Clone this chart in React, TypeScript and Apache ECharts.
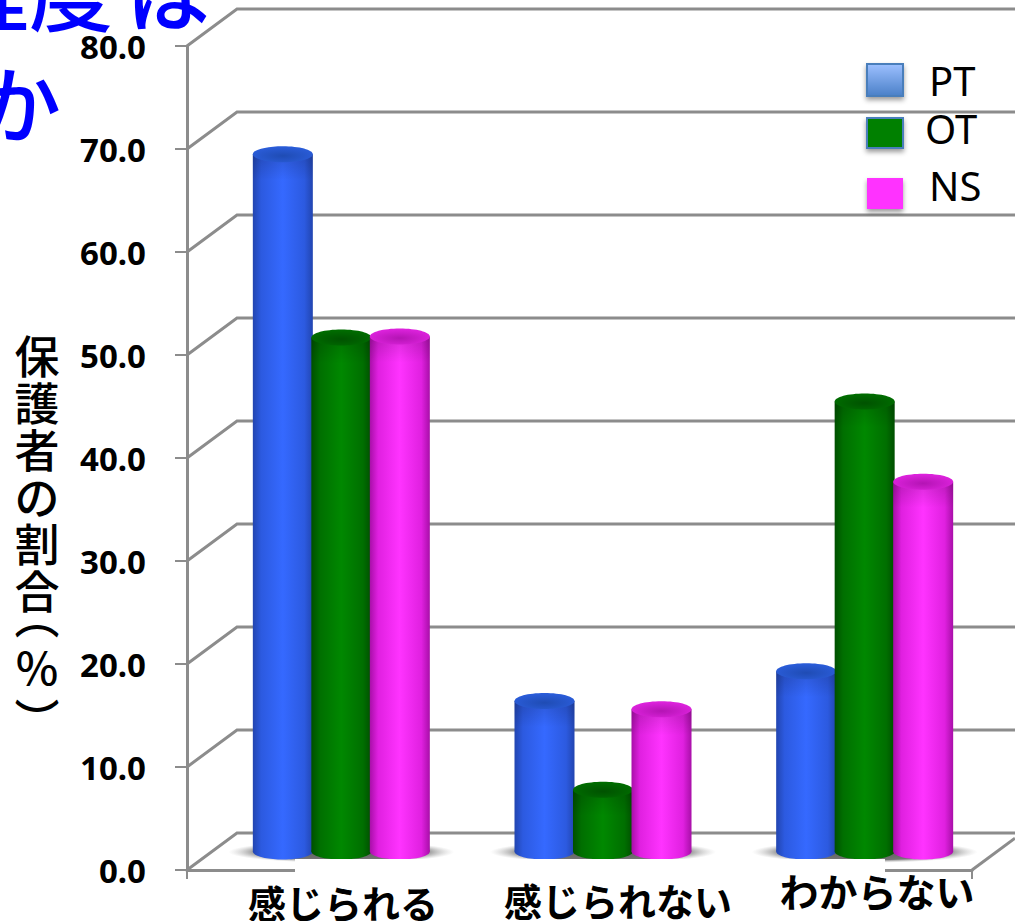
import React, { useEffect, useRef } from "react";
import * as echarts from "echarts";

const categories = ["感じられる", "感じられない", "わからない"];
const ptValues = [67.7, 14.6, 17.5];
const otValues = [49.9, 6.0, 43.7];
const nsValues = [50.0, 13.8, 35.9];
const tickValues = [0, 10, 20, 30, 40, 50, 60, 70, 80];
const legendNames = ["PT", "OT", "NS"];

const GRID_LEFT = 187;
const GRID_TOP = 46;
const GRID_WIDTH = 785;
const GRID_HEIGHT = 824;
const DEPTH_X = 50;
const DEPTH_Y = 37;
const BAR_SHIFT = 23.5;
const BAR_STEP = 58.5;
const BAR_RX = 30;
const BAR_RY = 8;
const LINE_COLOR = "#8c8c8c";
const FONT = '"Noto Sans CJK JP", "Noto Sans", sans-serif';

function sideGradient(edge: string, mid: string, centre: string) {
  return new echarts.graphic.LinearGradient(0, 0, 1, 0, [
    { offset: 0, color: edge },
    { offset: 0.14, color: mid },
    { offset: 0.5, color: centre },
    { offset: 0.86, color: mid },
    { offset: 1, color: edge },
  ]);
}

function capGradient(inner: string, outer: string) {
  return new echarts.graphic.RadialGradient(0.5, 0.6, 0.55, [
    { offset: 0, color: inner },
    { offset: 1, color: outer },
  ]);
}

function cylinderSeries(
  name: string,
  values: number[],
  slot: number,
  edge: string,
  mid: string,
  centre: string,
  capInner: string,
  capOuter: string,
) {
  const body = sideGradient(edge, mid, centre);
  const cap = capGradient(capInner, capOuter);
  return {
    type: "custom",
    name,
    z: 3,
    data: values.map((v, i) => [i, v]),
    renderItem: (_params: any, api: any) => {
      const top = api.coord([api.value(0), api.value(1)]);
      const base = api.coord([api.value(0), 0]);
      const cx = top[0] + BAR_SHIFT + slot * BAR_STEP;
      const topY = top[1] - DEPTH_Y / 2;
      const baseY = base[1] - DEPTH_Y / 2;
      return {
        type: "group",
        children: [
          {
            type: "ellipse",
            shape: { cx, cy: baseY, rx: BAR_RX, ry: BAR_RY },
            style: { fill: body },
          },
          {
            type: "rect",
            shape: { x: cx - BAR_RX, y: topY, width: BAR_RX * 2, height: baseY - topY },
            style: { fill: body },
          },
          {
            type: "rect",
            shape: { x: cx - BAR_RX, y: topY, width: BAR_RX * 2, height: Math.min(26, baseY - topY) },
            style: {
              fill: new echarts.graphic.LinearGradient(0, 0, 0, 1, [
                { offset: 0, color: "rgba(0,0,0,0.16)" },
                { offset: 1, color: "rgba(0,0,0,0)" },
              ]),
            },
          },
          {
            type: "ellipse",
            shape: { cx, cy: topY, rx: BAR_RX, ry: BAR_RY },
            style: { fill: cap },
          },
        ],
      };
    },
  };
}

const wallSeries = {
  type: "custom",
  z: 1,
  silent: true,
  data: tickValues.map((v) => [0, v]),
  renderItem: (params: any, api: any) => {
    const y = api.coord([0, api.value(1)])[1];
    const x0 = params.coordSys.x;
    const right = params.coordSys.x + params.coordSys.width;
    const style = { stroke: LINE_COLOR, lineWidth: 3, fill: "none" };
    const children: any[] = [
      {
        type: "polyline",
        shape: {
          points: [
            [x0, y],
            [x0 + DEPTH_X, y - DEPTH_Y],
            [api.getWidth(), y - DEPTH_Y],
          ],
        },
        style,
      },
    ];
    if (api.value(1) === 0) {
      const run = api.getWidth() - right;
      children.push({
        type: "line",
        shape: { x1: right, y1: y, x2: api.getWidth(), y2: y - (run * DEPTH_Y) / DEPTH_X },
        style,
      });
    }
    return { type: "group", children };
  },
};

const floorShadowSeries = {
  type: "custom",
  z: 2,
  silent: true,
  data: categories.map((_, i) => [i, 0]),
  renderItem: (_params: any, api: any) => {
    const p = api.coord([api.value(0), 0]);
    return {
      type: "ellipse",
      shape: { cx: p[0] + BAR_SHIFT, cy: p[1] - 18, rx: 113, ry: 11 },
      style: {
        fill: new echarts.graphic.RadialGradient(0.5, 0.5, 0.5, [
          { offset: 0, color: "rgba(90,90,90,1)" },
          { offset: 0.72, color: "rgba(110,110,110,0.95)" },
          { offset: 1, color: "rgba(190,190,190,0)" },
        ]),
      },
    };
  },
};

function label(
  text: string,
  x: number,
  y: number,
  font: string,
  fill = "#000",
  textAlign = "center",
  lineHeight?: number,
) {
  return {
    type: "text",
    x,
    y,
    z: 20,
    style: { text, font, fill, textAlign, textVerticalAlign: "middle", lineHeight },
  };
}

function swatch(x: number, y: number, width: number, height: number, fill: any, stroke?: string) {
  return {
    type: "rect",
    z: 20,
    shape: { x, y, width, height },
    style: {
      fill,
      stroke: stroke ?? "none",
      lineWidth: stroke ? 2 : 0,
      shadowBlur: 5,
      shadowOffsetY: 3,
      shadowColor: "rgba(0,0,0,0.4)",
    },
  };
}

export default function App() {
  const ref = useRef<HTMLDivElement>(null);

  useEffect(() => {
    const chart = echarts.init(ref.current!, undefined, { renderer: "svg" });
    chart.setOption({
      animation: false,
      backgroundColor: "#fff",
      grid: { left: GRID_LEFT, top: GRID_TOP, width: GRID_WIDTH, height: GRID_HEIGHT },
      xAxis: {
        type: "category",
        data: categories,
        axisLine: { show: true, lineStyle: { color: LINE_COLOR, width: 3 } },
        axisTick: { show: true, length: 9, lineStyle: { color: LINE_COLOR, width: 2 } },
        axisLabel: { show: false },
      },
      yAxis: {
        type: "value",
        min: 0,
        max: 80,
        interval: 10,
        splitLine: { show: false },
        axisLine: { show: true, lineStyle: { color: LINE_COLOR, width: 3 } },
        axisTick: { show: true, length: 12, lineStyle: { color: LINE_COLOR, width: 2 } },
        axisLabel: {
          margin: 41,
          color: "#000",
          fontFamily: '"Noto Sans", sans-serif',
          fontWeight: "bold",
          fontSize: 33,
          padding: [5, 0, 0, 0],
          formatter: (v: number) => v.toFixed(1),
        },
      },
      series: [
        wallSeries,
        floorShadowSeries,
        cylinderSeries(legendNames[0], ptValues, -1, "#2245b0", "#2c5ae0", "#3569ff", "#1f4cb4", "#2a5cd8"),
        cylinderSeries(legendNames[1], otValues, 0, "#004f00", "#006f00", "#008800", "#005200", "#006c00"),
        cylinderSeries(legendNames[2], nsValues, 1, "#a80fa8", "#e020e0", "#ff33ff", "#b414b4", "#dc22dc"),
      ],
      graphic: {
        elements: [
          // Blank strip below the floor that the category names sit on
          {
            type: "rect",
            z: 10,
            shape: { x: 295, y: 859, width: 590, height: 62 },
            style: { fill: "#fff" },
          },
          label("程度", 113, -12, `500 84px ${FONT}`, "#0000ff", "right"),
          label("は", 210, -12, `500 84px ${FONT}`, "#0000ff", "right"),
          label("か", 61, 100, `500 84px ${FONT}`, "#0000ff", "right"),
          label("保\n護\n者\nの\n割\n合", 37, 472, `500 45px ${FONT}`, "#000", "center", 47),
          label("︵\n％\n︶", 37, 666, `500 45px ${FONT}`, "#000", "center", 52),
          label(categories[0], 343, 901, `700 38px ${FONT}`),
          label(categories[1], 618, 899, `700 38px ${FONT}`),
          label(categories[2], 877, 890, `700 39px ${FONT}`),
          swatch(867, 64, 36, 32, new echarts.graphic.LinearGradient(0, 0, 0, 1, [
            { offset: 0, color: "#9dc0ff" },
            { offset: 1, color: "#4a80c8" },
          ]), "#4a7ebb"),
          swatch(867, 118, 36, 30, "#008000", "#4a7ebb"),
          swatch(867, 178, 36, 31, "#ff33ff"),
          label(legendNames[0], 929, 80, `400 40px "Noto Sans", sans-serif`, "#000", "left"),
          label(legendNames[1], 925, 128, `400 40px "Noto Sans", sans-serif`, "#000", "left"),
          label(legendNames[2], 929, 185, `400 40px "Noto Sans", sans-serif`, "#000", "left"),
        ],
      },
    });
    return () => chart.dispose();
  }, []);

  return (
    <div
      ref={ref}
      style={{ position: "absolute", left: 0, top: 0, width: 1015, height: 921, overflow: "hidden" }}
    />
  );
}
